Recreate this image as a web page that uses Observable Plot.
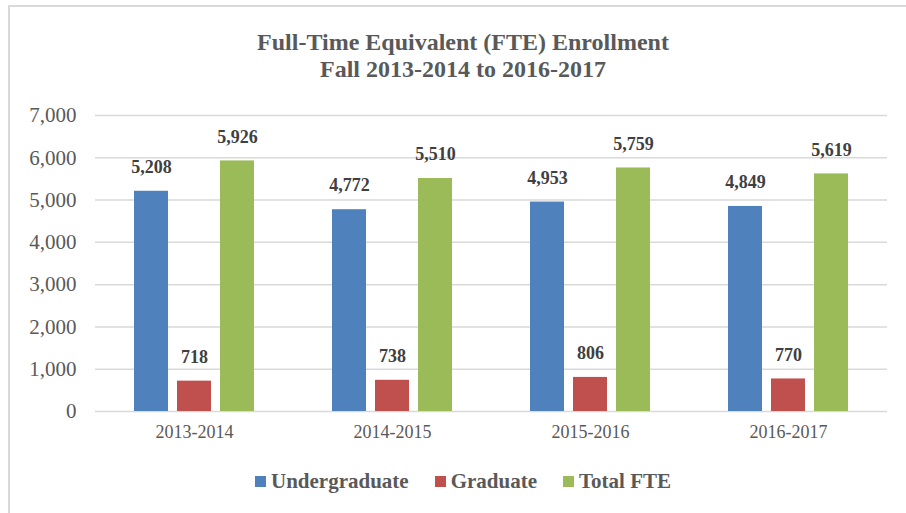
<!DOCTYPE html>
<html>
<head>
<meta charset="utf-8">
<script src="https://cdn.jsdelivr.net/npm/d3@7"></script>
<script src="https://cdn.jsdelivr.net/npm/@observablehq/plot@0.6"></script>
<style>
  body { margin: 0; background: #fff; }
  #wrap, #wrap * { font-family: 'Liberation Serif', 'Times New Roman', serif !important; }
  #wrap { position: relative; width: 906px; height: 513px; overflow: hidden; }
  #border { position: absolute; left: 8px; top: 5px; width: 1000px; height: 1000px; border-left: 2px solid #d9d9d9; border-top: 2px solid #d9d9d9; }
  #title { position: absolute; left: 0; width: 926px; top: 29px; text-align: center; font-weight: bold; font-size: 24px; line-height: 27px; color: #595959; }
  #chart { position: absolute; left: 0; top: 95px; }
  #legend { position: absolute; top: 469px; left: 0; width: 926px; display: flex; justify-content: center; font-weight: bold; font-size: 21px; color: #595959; }
  .item { display: flex; align-items: center; margin: 0 13px; }
  .sw { width: 11px; height: 11px; margin-right: 5px; }
</style>
</head>
<body>
<div id="wrap">
  <div id="border"></div>
  <div id="title">Full-Time Equivalent (FTE) Enrollment<br>Fall 2013-2014 to 2016-2017</div>
  <div id="chart"></div>
  <div id="legend"></div>
</div>
<script>
const years = ["2013-2014", "2014-2015", "2015-2016", "2016-2017"];
const series = ["Undergraduate", "Graduate", "Total FTE"];
const colors = ["#4f81bd", "#c0504d", "#9bbb59"];
const undergraduate = [5208, 4772, 4953, 4849];
const graduate = [718, 738, 806, 770];
const totalFTE = [5926, 5510, 5759, 5619];
const yTicks = [0, 1000, 2000, 3000, 4000, 5000, 6000, 7000];

const valuesBySeries = [undergraduate, graduate, totalFTE];
const data = [];
years.forEach((y, i) => {
  series.forEach((s, j) => data.push({year: y, series: s, value: valuesBySeries[j][i]}));
});

const chart = Plot.plot({
  width: 906,
  height: 356,
  marginLeft: 93,
  marginRight: 18,
  marginTop: 20,
  marginBottom: 40,
  style: {fontFamily: "'Liberation Serif', 'Times New Roman', serif", color: "#595959", background: "transparent"},
  fx: {domain: years, padding: 0, label: null},
  x: {domain: series, axis: null, paddingInner: 0.2, paddingOuter: 0.86},
  y: {domain: [0, 7000], label: null},
  color: {domain: series, range: colors},
  marks: [
    Plot.ruleY(yTicks, {stroke: "#d9d9d9", strokeWidth: 1.5, facetAnchor: null}),
    Plot.axisY({ticks: yTicks, tickFormat: d3.format(","), tickSize: 0, tickPadding: 19, fontSize: 21, label: null}),
    Plot.axisFx({anchor: "bottom", tickSize: 0, tickPadding: 14, fontSize: 18, label: null}),
    Plot.barY(data, {fx: "year", x: "series", y: "value", fill: "series"}),
    Plot.text(data, {fx: "year", x: "series", y: "value", text: d => d3.format(",")(d.value), dy: -24, fontWeight: "bold", fontSize: 18, fill: "#404040"})
  ]
});
document.getElementById("chart").appendChild(chart);

const legend = document.getElementById("legend");
series.forEach((s, i) => {
  const item = document.createElement("div");
  item.className = "item";
  const sw = document.createElement("div");
  sw.className = "sw";
  sw.style.background = colors[i];
  const t = document.createElement("span");
  t.textContent = s;
  item.appendChild(sw);
  item.appendChild(t);
  legend.appendChild(item);
});
</script>
</body>
</html>
